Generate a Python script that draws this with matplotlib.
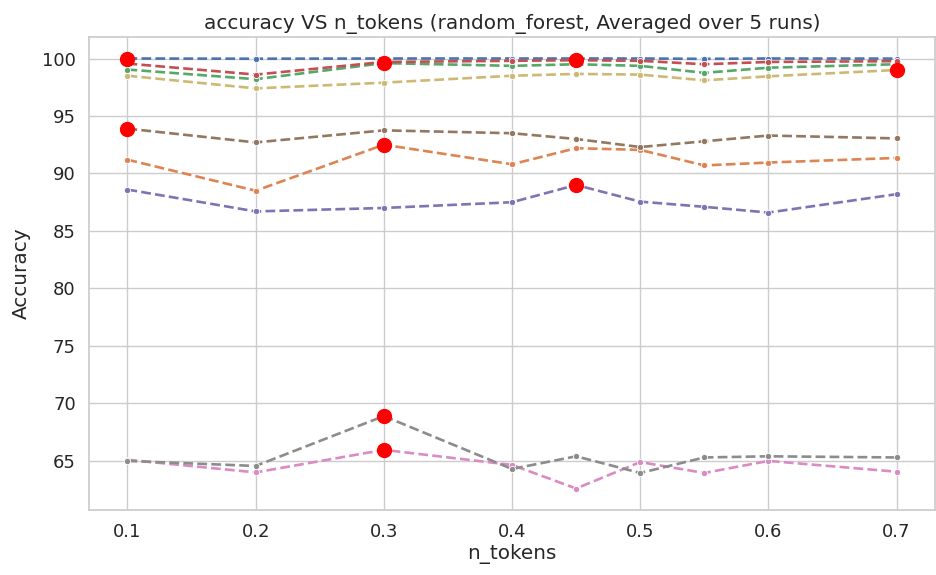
import matplotlib
matplotlib.use('Agg')
import matplotlib.pyplot as plt
import seaborn as sns

sns.set_theme(style='whitegrid')

n_tokens = [0.1, 0.2, 0.3, 0.4, 0.45, 0.5, 0.55, 0.6, 0.7]

blue   = [100.0, 99.98, 100.0, 100.0, 100.0, 100.0, 99.97, 100.0, 99.99]
orange = [91.2, 88.5, 92.5, 90.8, 92.2, 92.05, 90.7, 90.95, 91.35]
green  = [99.04, 98.2, 99.6, 99.36, 99.5, 99.36, 98.75, 99.2, 99.5]
red    = [99.56, 98.6, 99.7, 99.8, 99.85, 99.8, 99.5, 99.7, 99.77]
purple = [88.6, 86.7, 87.0, 87.5, 89.0, 87.55, 87.1, 86.6, 88.2]
brown  = [93.9, 92.7, 93.75, 93.5, 93.0, 92.3, 92.8, 93.3, 93.05]
pink   = [65.1, 64.0, 65.96, 64.65, 62.6, 64.9, 63.95, 65.0, 64.06]
gray   = [65.0, 64.56, 68.9, 64.3, 65.4, 63.95, 65.3, 65.4, 65.3]
olive  = [98.5, 97.4, 97.9, 98.5, 98.66, 98.6, 98.1, 98.45, 99.0]

series = [blue, orange, green, red, purple, brown, pink, gray, olive]
colors = sns.color_palette('deep')

fig = plt.figure(figsize=(9.36, 5.75), dpi=100)
ax = fig.add_subplot(111)
fig.subplots_adjust(left=89/936, right=0.999, top=1-37/575, bottom=1-510/575)

for vals, c in zip(series, colors):
    ax.plot(n_tokens, vals, linestyle='--', marker='o', markersize=4.5,
            color=c, linewidth=1.9, markeredgecolor='white', markeredgewidth=0.6)

# mark the best n_tokens of each run
for vals in series:
    i = vals.index(max(vals))
    ax.plot(n_tokens[i], vals[i], 'o', color='red', markersize=10, zorder=5)

ax.set_xticks([0.1, 0.2, 0.3, 0.4, 0.5, 0.6, 0.7])
ax.tick_params(labelsize=13)
ax.set_title('accuracy VS n_tokens (random_forest, Averaged over 5 runs)', fontsize=14.4)
ax.set_xlabel('n_tokens', fontsize=14.4, labelpad=2)
ax.set_ylabel('Accuracy', fontsize=14.4, labelpad=8)

fig.savefig('out.png', dpi=100)
